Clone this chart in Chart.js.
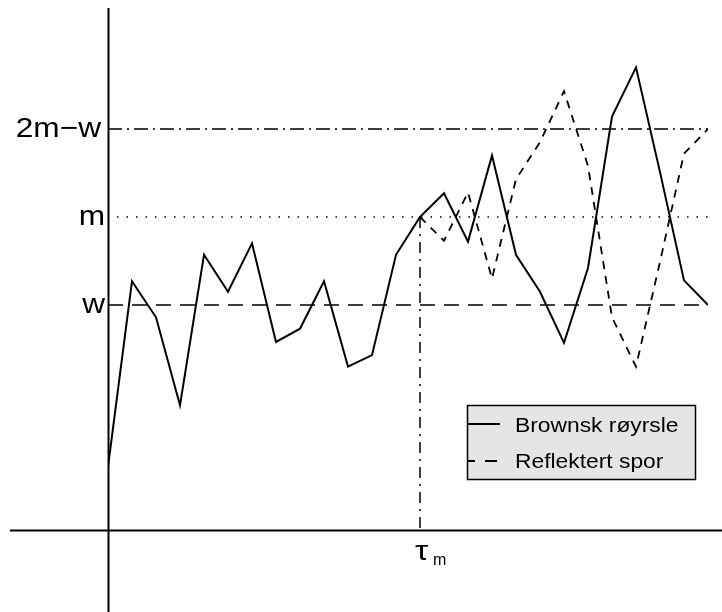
<!DOCTYPE html>
<html>
<head>
<meta charset="utf-8">
<title>Refleksjonsprinsippet</title>
<script src="https://cdn.jsdelivr.net/npm/chart.js@4"></script>
<style>
  html, body { margin: 0; padding: 0; background: #ffffff; }
  #wrap { width: 722px; height: 612px; }
</style>
</head>
<body>
<div id="wrap"><canvas id="c" width="722" height="612"></canvas></div>
<script>
// Time steps of the simulated path
const steps = [0,1,2,3,4,5,6,7,8,9,10,11,12,13,14,15,16,17,18,19,20,21,22,23,24,25];

// Brownian path B(t)
const brownian = [-0.84, 1.27, 0.86, -0.14, 1.57, 1.15, 1.70, 0.58, 0.73, 1.27,
                  0.30, 0.43, 1.57, 2.00, 2.27, 1.72, 2.70, 1.57, 1.15, 0.57,
                  1.42, 3.14, 3.70, 2.51, 1.28, 1.00];

// Path reflected in the level m after the hitting time
const reflected = [null, null, null, null, null, null, null, null, null, null,
                   null, null, null, 2.00, 1.73, 2.28, 1.30, 2.43, 2.85, 3.43,
                   2.58, 0.86, 0.30, 1.49, 2.72, 3.00];

// Levels and hitting time
const levelNames = ['2m\u2212w', 'm', 'w'];
const levelValues = [3, 2, 1];
const tauStep = 13;
const axisLevel = -1.557;
const yMin = -2.489, yMax = 4.375;

const legendLabels = ['Brownsk røyrsle', 'Reflektert spor'];

const pts = arr => steps.map((t, i) => ({ x: t, y: arr[i] }));
const hline = v => [{ x: steps[0], y: v }, { x: steps[steps.length - 1], y: v }];

const datasets = [
  { label: levelNames[0], data: hline(levelValues[0]), borderColor: '#000', borderWidth: 1.5,
    borderDash: [14, 5, 2, 5], pointRadius: 0 },
  { label: levelNames[1], data: hline(levelValues[1]), borderColor: '#000', borderWidth: 1.5,
    borderDash: [1.5, 8], borderDashOffset: -9, pointRadius: 0 },
  { label: levelNames[2], data: hline(levelValues[2]), borderColor: '#000', borderWidth: 1.5,
    borderDash: [15, 9], pointRadius: 0 },
  { label: 'tau', data: [{ x: tauStep, y: levelValues[1] }, { x: tauStep, y: axisLevel }],
    borderColor: '#000', borderWidth: 1.5, borderDash: [11, 6, 2, 6], pointRadius: 0 },
  { label: legendLabels[1], data: pts(reflected), borderColor: '#000', borderWidth: 1.8,
    borderDash: [8, 7], pointRadius: 0, spanGaps: false },
  { label: legendLabels[0], data: pts(brownian), borderColor: '#000', borderWidth: 2,
    pointRadius: 0 }
];

// Draws the axes, level names, tau label and the legend box
const decor = {
  id: 'decor',
  afterDatasetsDraw(chart) {
    const ctx = chart.ctx;
    const xs = chart.scales.x, ys = chart.scales.y;
    const x0 = Math.round(xs.getPixelForValue(0)) + 0.5;
    const yA = Math.round(ys.getPixelForValue(axisLevel)) + 0.5;
    ctx.save();
    ctx.strokeStyle = '#000';
    ctx.lineWidth = 2;
    ctx.setLineDash([]);
    ctx.beginPath();
    ctx.moveTo(10, yA); ctx.lineTo(chart.width, yA);
    ctx.moveTo(x0, 8); ctx.lineTo(x0, chart.height);
    ctx.stroke();

    const stretchText = (txt, x, y, size, align, sx) => {
      ctx.save();
      ctx.font = size + 'px "Liberation Sans", Arial, sans-serif';
      ctx.textAlign = align;
      ctx.translate(x, y);
      ctx.scale(sx, 1);
      ctx.fillText(txt, 0, 0);
      ctx.restore();
    };

    ctx.fillStyle = '#000';
    ctx.textBaseline = 'middle';
    levelNames.forEach((n, i) => {
      stretchText(n, i === 0 ? 101 : 105, ys.getPixelForValue(levelValues[i]), 28, 'right', 1.13);
    });

    // tau_m under the time axis
    const xt = xs.getPixelForValue(tauStep);
    stretchText('\u03C4', xt - 5, yA + 22, 28, 'left', 1.2);
    stretchText('m', xt + 13, yA + 30, 16, 'left', 1.0);

    // legend
    const lx = 467, ly = 405, lw = 228, lh = 74;
    ctx.fillStyle = '#e5e5e5';
    ctx.fillRect(lx, ly, lw, lh);
    ctx.lineWidth = 1.5;
    ctx.strokeRect(lx + 0.5, ly + 0.5, lw, lh);
    ctx.lineWidth = 2;
    ctx.beginPath();
    ctx.moveTo(lx, 424); ctx.lineTo(500, 424);
    ctx.moveTo(lx, 461); ctx.lineTo(475, 461);
    ctx.moveTo(485, 461); ctx.lineTo(497, 461);
    ctx.stroke();
    ctx.fillStyle = '#000';
    ctx.textBaseline = 'alphabetic';
    stretchText(legendLabels[0], 515, 432, 19.5, 'left', 1.17);
    stretchText(legendLabels[1], 515, 468, 19.5, 'left', 1.17);
    ctx.restore();
  }
};

new Chart(document.getElementById('c'), {
  type: 'line',
  data: { datasets },
  options: {
    responsive: false,
    animation: false,
    layout: { padding: { left: 108, right: 14, top: 8, bottom: 0 } },
    elements: { line: { tension: 0 } },
    scales: {
      x: { type: 'linear', min: 0, max: 25, display: false },
      y: { min: yMin, max: yMax, display: false }
    },
    plugins: { legend: { display: false }, tooltip: { enabled: false } }
  },
  plugins: [decor]
});
</script>
</body>
</html>
